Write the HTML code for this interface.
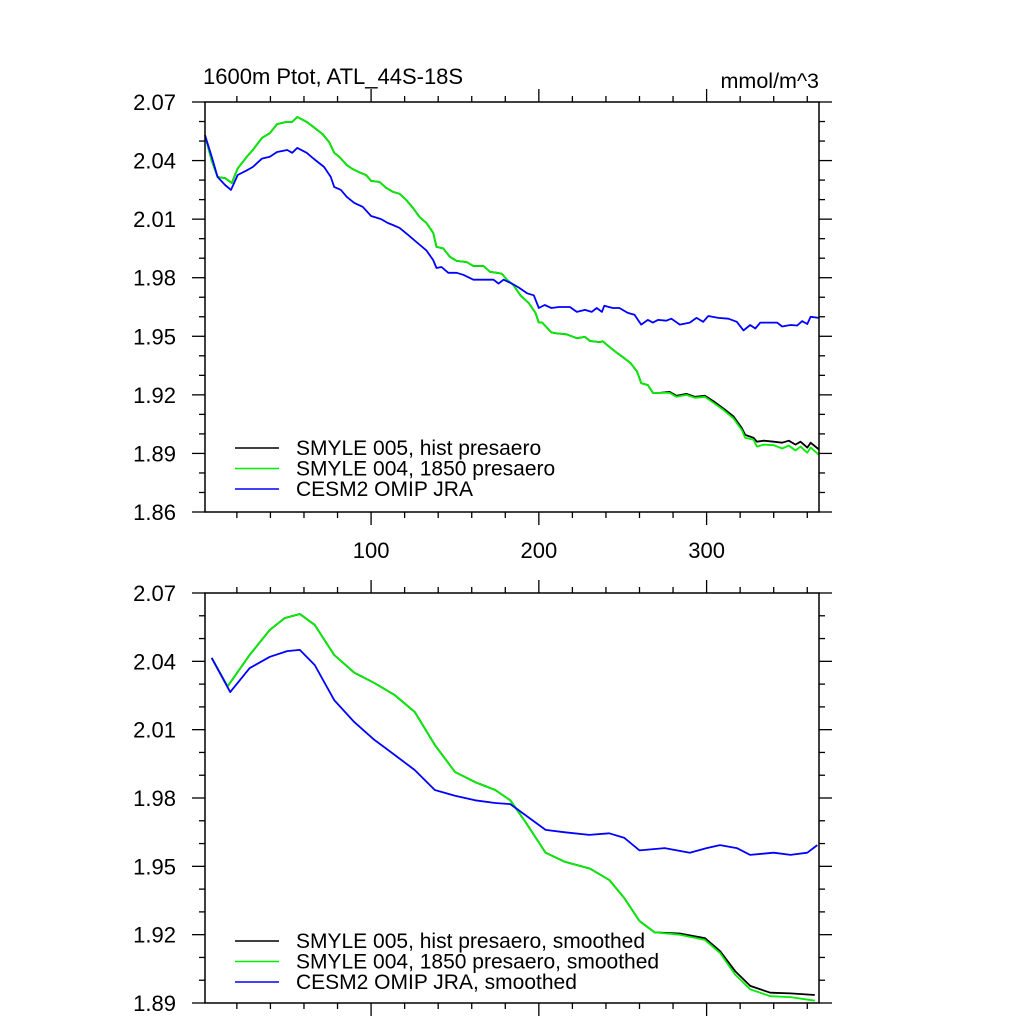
<!DOCTYPE html>
<html><head><meta charset="utf-8"><style>
html,body{margin:0;padding:0;background:#fff;}
svg{display:block;font-family:"Liberation Sans",sans-serif;}
</style></head><body>
<svg id="chart" width="1024" height="1024" viewBox="0 0 1024 1024">
<text x="203" y="84" font-size="22">1600m Ptot, ATL_44S-18S</text>
<text x="819" y="88" font-size="21.5" text-anchor="end">mmol/m^3</text>
<g id="top"></g>
<g id="bot"></g>
</svg>
<script>
// ---- data: top panel (raw) ----
const greenX = [1,5,8.5,13,17,20.5,26,29.5,35,39.6,44,49.6,53,56,61.6,66,71,75,78,81,85.5,89,93,97,100,105,109,113,117,121,125,129,133,137,139,143,147,151,157,161,167,171,175,178,181,185,189,194,198,200,202,207.5,210.5,216.5,222.6,227.5,230.5,236.5,238,242,246.6,250,254.5,258.5,261,265,268,272,278,282,288,293,299,304,310,316,321,323,328,330,334,340,345,349,353,356,360,362,367];
const greenV = [2.053,2.040,2.0316,2.031,2.0285,2.036,2.042,2.0454,2.0516,2.054,2.0587,2.0598,2.0598,2.0623,2.0598,2.057,2.0536,2.0495,2.044,2.042,2.0377,2.0357,2.034,2.0326,2.0296,2.029,2.026,2.024,2.023,2.0198,2.0157,2.011,2.008,2.003,1.9958,1.995,1.9907,1.9886,1.988,1.986,1.986,1.983,1.9825,1.982,1.979,1.976,1.971,1.967,1.962,1.957,1.957,1.952,1.9515,1.951,1.949,1.9497,1.9476,1.947,1.9475,1.9446,1.9415,1.9394,1.9364,1.932,1.926,1.925,1.921,1.921,1.921,1.919,1.920,1.9185,1.919,1.916,1.9123,1.908,1.902,1.898,1.897,1.8935,1.8945,1.8942,1.8925,1.894,1.8915,1.8935,1.8903,1.893,1.8893];
const blackX = [1,5,8.5,13,17,20.5,26,29.5,35,39.6,44,49.6,53,56,61.6,66,71,75,78,81,85.5,89,93,97,100,105,109,113,117,121,125,129,133,137,139,143,147,151,157,161,167,171,175,178,181,185,189,194,198,200,202,207.5,210.5,216.5,222.6,227.5,230.5,236.5,238,242,246.6,250,254.5,258.5,261,265,268,272,278,282,288,293,299,304,310,316,321,323,328,330,334,340,345,349,353,356,360,362,367];
const blackV = [2.053,2.040,2.0316,2.031,2.0285,2.036,2.042,2.0454,2.0516,2.054,2.0587,2.0598,2.0598,2.0623,2.0598,2.057,2.0536,2.0495,2.044,2.042,2.0377,2.0357,2.034,2.0326,2.0296,2.029,2.026,2.024,2.023,2.0198,2.0157,2.011,2.008,2.003,1.9958,1.995,1.9907,1.9886,1.988,1.986,1.986,1.983,1.9825,1.982,1.979,1.976,1.971,1.967,1.962,1.957,1.957,1.952,1.9515,1.951,1.949,1.9497,1.9476,1.947,1.9475,1.9446,1.9415,1.9394,1.9364,1.932,1.926,1.925,1.921,1.921,1.9215,1.9195,1.9205,1.919,1.9195,1.9168,1.913,1.909,1.903,1.8995,1.898,1.896,1.8965,1.896,1.8955,1.8965,1.8945,1.896,1.893,1.8955,1.892];
const blueX = [1,5,8.5,13,16.5,20.5,26,29.5,35,39.6,44,50,53,56,61.6,66,72,76,78,82,85.5,90,95,100,106,110,113,117,122,127,133,137,139,142,146,151,155,161,167,173,176,179,184,188,193,197,200,203.5,207.5,212,218.5,222.6,227.5,231.5,234.5,237.6,239,244,248,253,257,261,265,268,271,276,279,284,290,294,298,301,307,313,318,322,326,329,332,338,342,345,350,354,357,360,362,367];
const blueV = [2.053,2.042,2.0316,2.0275,2.025,2.0326,2.035,2.0367,2.041,2.042,2.0444,2.0454,2.044,2.0465,2.044,2.0408,2.0367,2.0316,2.0265,2.025,2.0214,2.0183,2.0163,2.0116,2.010,2.008,2.007,2.0055,2.002,1.9983,1.994,1.989,1.985,1.9855,1.9825,1.9825,1.9815,1.979,1.979,1.979,1.977,1.979,1.977,1.975,1.972,1.971,1.9645,1.966,1.9645,1.965,1.965,1.9625,1.9635,1.9625,1.9645,1.9625,1.9656,1.9645,1.9645,1.962,1.961,1.956,1.9584,1.957,1.9584,1.958,1.959,1.956,1.957,1.9594,1.9574,1.9604,1.9594,1.959,1.9574,1.953,1.9558,1.954,1.957,1.957,1.957,1.955,1.9558,1.9555,1.9578,1.9563,1.96,1.9594];
// ---- data: bottom panel (smoothed) ----
const sGreenX = [5,14.5,27.6,39.6,48.5,57.5,66.4,78,90,102,114,126,138,150,162,174,183,192,204,215.5,230.5,242,251,260,269,284,299,308,317,326,338,350,364.5];
const sGreenV = [2.0415,2.029,2.0428,2.0538,2.059,2.0608,2.056,2.0428,2.035,2.0305,2.0252,2.0178,2.0033,1.9914,1.987,1.9835,1.979,1.9695,1.956,1.952,1.949,1.944,1.936,1.926,1.921,1.920,1.9177,1.912,1.9025,1.896,1.893,1.8926,1.891];
const sBlackX = [5,14.5,27.6,39.6,48.5,57.5,66.4,78,90,102,114,126,138,150,162,174,183,192,204,215.5,230.5,242,251,260,269,284,299,308,317,326,338,350,364.5];
const sBlackV = [2.0415,2.029,2.0428,2.0538,2.059,2.0608,2.056,2.0428,2.035,2.0305,2.0252,2.0178,2.0033,1.9914,1.987,1.9835,1.979,1.9695,1.956,1.952,1.949,1.944,1.936,1.926,1.921,1.9205,1.9185,1.9128,1.904,1.8975,1.8945,1.8942,1.8935];
const sBlueX = [5,16,27.6,39.6,50,57.5,66.4,78,90,102,114,126,138,150,162,174,183,192,204,215,230,242,251,260,275,290,300,308,318,326,340,350,360,366];
const sBlueV = [2.0415,2.0265,2.037,2.042,2.0445,2.045,2.0384,2.023,2.0133,2.0055,1.9989,1.9923,1.9835,1.981,1.979,1.9778,1.9773,1.9725,1.966,1.965,1.9638,1.9645,1.9625,1.957,1.958,1.956,1.958,1.9593,1.958,1.955,1.956,1.955,1.956,1.9593];
const yTicksTop = ["2.07","2.04","2.01","1.98","1.95","1.92","1.89","1.86"];
const yTicksBot = ["2.07","2.04","2.01","1.98","1.95","1.92","1.89"];
const xTickLabels = ["100","200","300"];
const legendTop = ["SMYLE 005, hist presaero","SMYLE 004, 1850 presaero","CESM2 OMIP JRA"];
const legendBot = ["SMYLE 005, hist presaero, smoothed","SMYLE 004, 1850 presaero, smoothed","CESM2 OMIP JRA, smoothed"];

const NS="http://www.w3.org/2000/svg";
function mk(tag, attrs, parent){const e=document.createElementNS(NS,tag);for(const k in attrs)e.setAttribute(k,attrs[k]);parent.appendChild(e);return e;}
const L=205,R=819,XMIN=1,XMAX=367;
function xs(u){return L+(u-XMIN)/(XMAX-XMIN)*(R-L);}

function panel(g, top, bottom, ymin, ymax, yLabels, showXLabels, series, legend, legY){
  const ys=v=>bottom-(v-ymin)/(ymax-ymin)*(bottom-top);
  const tk=mk('g',{stroke:'#000','stroke-width':1.3},g);
  
  
  for(let v=ymin;v<=ymax+1e-9;v+=0.01){
    const k=Math.round((v-ymin)/0.01), major=(k%3===0), len=major?13:6, y=ys(v);
    mk('line',{x1:L-len,x2:L,y1:y,y2:y},tk);
    mk('line',{x1:R,x2:R+len,y1:y,y2:y},tk);
  }
  for(let u=20;u<=XMAX;u+=20){
    const major=(u%100===0), len=major?13:6, x=xs(u);
    mk('line',{x1:x,x2:x,y1:top-len,y2:top},tk);
    mk('line',{x1:x,x2:x,y1:bottom,y2:bottom+len},tk);
  }
  yLabels.forEach(s=>{
    const t=mk('text',{x:176,y:ys(parseFloat(s))+8,'font-size':22,'text-anchor':'end'},g);
    
    
    t.textContent=s;
  });
  if(showXLabels){
    xTickLabels.forEach(s=>{
      const t=mk('text',{x:xs(parseFloat(s)),y:bottom+46,'font-size':22,'text-anchor':'middle'},g);
      
      
      t.textContent=s;
    });
  }
  series.forEach(s=>{
    const d=s.x.map((u,i)=>(i?'L':'M')+xs(u).toFixed(1)+' '+ys(s.v[i]).toFixed(1)).join(' ');
    const p=mk('path',{d:d,fill:'none',stroke:s.c,'stroke-width':1.8,'stroke-linejoin':'round'},g);
    
    
  });
  const f=mk('rect',{x:L,y:top,width:R-L,height:bottom-top,fill:'none',stroke:'#000','stroke-width':1.5},g);
  
  
  const cols=['#000','#00ee00','#0000ff'];
  legend.forEach((s,i)=>{
    const y=legY+i*20.5;
    const ln=mk('line',{x1:235,x2:279,y1:y,y2:y,stroke:cols[i],'stroke-width':1.6},g);
    
    
    const t=mk('text',{x:296,y:y+7,'font-size':21},g);
    
    
    t.textContent=s;
  });
}
panel(document.getElementById('top'),102,512,1.86,2.07,yTicksTop,true,[
  {x:blackX,v:blackV,c:'#000',n:'series-smyle005-raw'},
  {x:greenX,v:greenV,c:'#00ee00',n:'series-smyle004-raw'},
  {x:blueX,v:blueV,c:'#0000ff',n:'series-cesm2-omip-raw'}],legendTop,448);
panel(document.getElementById('bot'),593,1003,1.89,2.07,yTicksBot,false,[
  {x:sBlackX,v:sBlackV,c:'#000',n:'series-smyle005-smoothed'},
  {x:sGreenX,v:sGreenV,c:'#00ee00',n:'series-smyle004-smoothed'},
  {x:sBlueX,v:sBlueV,c:'#0000ff',n:'series-cesm2-omip-smoothed'}],legendBot,941);
</script>
</body></html>
